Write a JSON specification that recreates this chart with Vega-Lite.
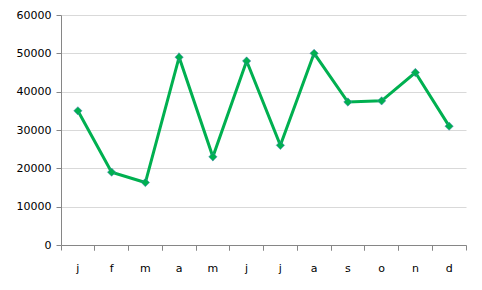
{
  "$schema": "https://vega.github.io/schema/vega-lite/v6.json",
  "autosize": {"type": "none"},
  "padding": {"left": 61, "top": 15, "right": 16, "bottom": 45},
  "width": 405,
  "height": 230,
  "background": "white",
  "config": {"view": {"stroke": null}, "font": "DejaVu Sans"},
  "data": {
    "values": [
      {"month": "jan", "value": 35000},
      {"month": "feb", "value": 19000},
      {"month": "mar", "value": 16300},
      {"month": "apr", "value": 49000},
      {"month": "may", "value": 23000},
      {"month": "jun", "value": 48000},
      {"month": "jul", "value": 26000},
      {"month": "aug", "value": 50000},
      {"month": "sep", "value": 37300},
      {"month": "oct", "value": 37600},
      {"month": "nov", "value": 45000},
      {"month": "dec", "value": 31000}
    ]
  },
  "encoding": {
    "y": {
      "field": "value",
      "type": "quantitative",
      "scale": {"domain": [0, 60000], "nice": false},
      "axis": {
        "title": null,
        "values": [0, 10000, 20000, 30000, 40000, 50000, 60000],
        "format": "d",
        "domainColor": "#868686",
        "tickColor": "#868686",
        "tickSize": 5,
        "labelPadding": 5,
        "labelFontSize": 11,
        "labelColor": "#000000",
        "gridColor": "#d9d9d9",
        "grid": true
      }
    }
  },
  "resolve": {"axis": {"x": "independent"}},
  "layer": [
    {
      "mark": {"type": "line", "color": "#00B050", "strokeWidth": 3},
      "encoding": {
        "x": {
          "field": "month",
          "type": "nominal",
          "sort": null,
          "scale": {"type": "band", "paddingInner": 0, "paddingOuter": 0},
          "axis": {
            "title": null,
            "orient": "bottom",
            "labelAngle": 0,
            "labelExpr": "substring(datum.label, 0, 1)",
            "bandPosition": 0,
            "domainColor": "#868686",
            "tickColor": "#868686",
            "tickSize": 5,
            "labelPadding": 12,
            "labelFontSize": 11,
            "labelColor": "#000000",
            "grid": false
          }
        }
      }
    },
    {
      "mark": {"type": "point", "shape": "diamond", "filled": true, "color": "#00B050", "size": 70, "opacity": 1, "stroke": "#4F81BD", "strokeWidth": 0.5},
      "encoding": {
        "x": {
          "field": "month",
          "type": "nominal",
          "sort": null,
          "scale": {"type": "band", "paddingInner": 0, "paddingOuter": 0},
          "axis": {
            "title": null,
            "orient": "bottom",
            "labels": false,
            "domain": false,
            "bandPosition": 1,
            "tickColor": "#868686",
            "tickSize": 5,
            "grid": false
          }
        }
      }
    }
  ]
}
